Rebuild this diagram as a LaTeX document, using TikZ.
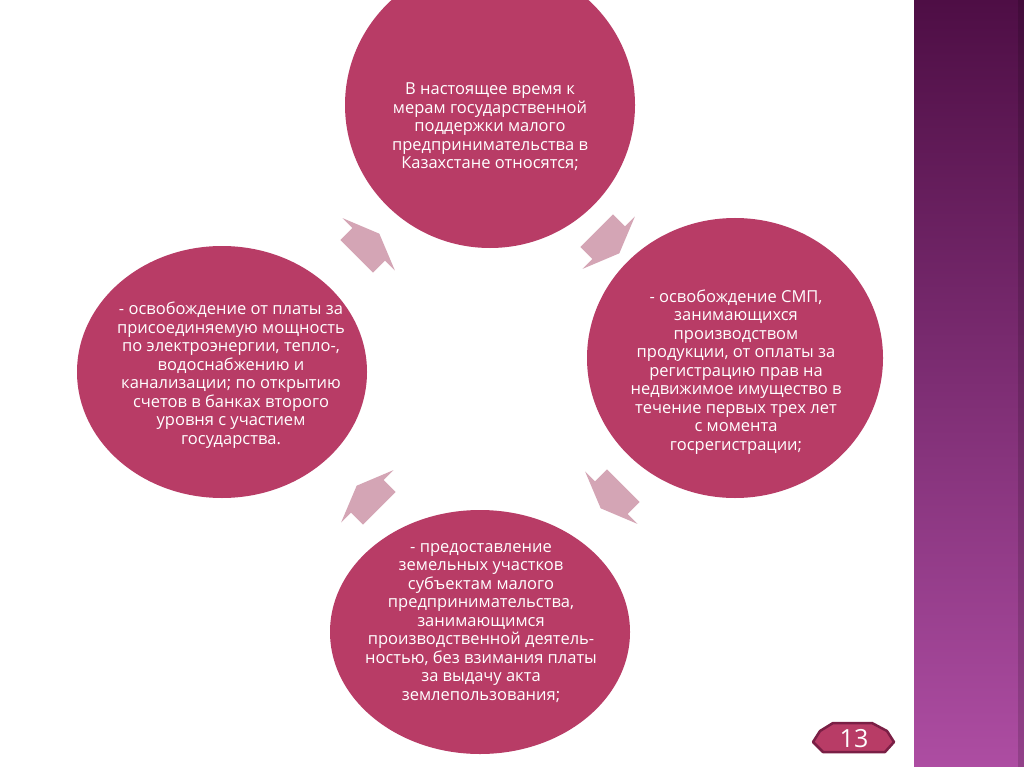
\documentclass[tikz,border=0pt]{standalone}
\usepackage{fontspec}
\setmainfont{Open Sans}
\usetikzlibrary{shapes.geometric}
\definecolor{circfill}{HTML}{B83C66}
\definecolor{arrfill}{HTML}{D4A5B5}
\definecolor{bandtop}{HTML}{4E0E45}
\definecolor{bandbot}{HTML}{AD4DA2}
\definecolor{badgeedge}{HTML}{7A1F45}
\tikzset{
  x=1pt, y=-1pt,
  blob/.style={ellipse, fill=circfill, inner sep=0pt, draw=none},
  blobtext/.style={text=white, align=center, font=\fontsize{16.5}{18.5}\selectfont, inner sep=0pt},
  pics/cycarrow/.style={code={
    \fill[arrfill] (-16,23) -- (1,23) -- (1,37) -- (16,0) -- (1,-37) -- (1,-23) -- (-16,-23) -- cycle;}}
}
\begin{document}
\begin{tikzpicture}
\useasboundingbox (0,0) rectangle (1024,767);
\fill[white] (0,0) rectangle (1024,767);
% right band
\shade[top color=bandtop, bottom color=bandbot] (914,0) rectangle (1024,767);
\fill[black, opacity=0.15] (1018,0) rectangle (1024,767);
% ellipses
\node[blob, minimum width=290pt, minimum height=286pt] (top) at (490,105) {};
\node[blob, minimum width=296pt, minimum height=280pt] (right) at (735,358) {};
\node[blob, minimum width=300pt, minimum height=244pt] (bottom) at (480,632) {};
\node[blob, minimum width=290pt, minimum height=252pt] (left) at (222,372) {};
% arrows
\pic[rotate=45] (a1) at (368,245) {cycarrow};
\pic[rotate=-45] (a2) at (608,242) {cycarrow};
\pic[rotate=-135] (a3) at (612,497) {cycarrow};
\pic[rotate=135] (a4) at (368,497) {cycarrow};
% texts
\node[blobtext] (ttop) at (490,127) {В настоящее время к\\мерам государственной\\поддержки малого\\предпринимательства в\\Казахстане относятся;};
\node[blobtext] (tright) at (736,372) {- освобождение СМП,\\занимающихся\\производством\\продукции, от оплаты за\\регистрацию прав на\\недвижимое имущество в\\течение первых трех лет\\с момента\\госрегистрации;};
\node[blobtext] (tbottom) at (481,623) {- предоставление\\земельных участков\\субъектам малого\\предпринимательства,\\занимающимся\\производственной деятель-\\ностью, без взимания платы\\за выдачу акта\\землепользования;};
\node[blobtext] (tleft) at (231,375) {- освобождение от платы за\\присоединяемую мощность\\по электроэнергии, тепло-,\\водоснабжению и\\канализации; по открытию\\счетов в банках второго\\уровня с участием\\государства.};
% page badge
\filldraw[fill=circfill, draw=badgeedge, line width=2.5pt, line join=round]
  (833,723) -- (872,723) -- (887,731) -- (894,742) -- (885,752) -- (823,752) -- (813,742) -- (820,731) -- cycle;
\node[text=white, font=\fontsize{25}{25}\selectfont, inner sep=0pt] (pg) at (854,739) {13};
\end{tikzpicture}
\end{document}
